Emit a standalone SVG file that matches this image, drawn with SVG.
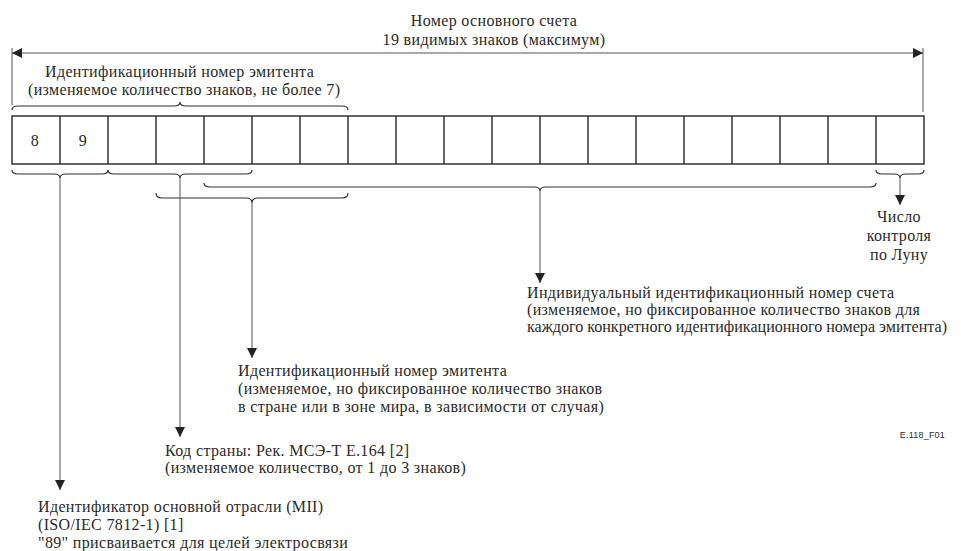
<svg xmlns="http://www.w3.org/2000/svg" width="961" height="551" viewBox="0 0 961 551">
<defs>
<style>
text{font-family:"Liberation Serif","Times New Roman",serif;font-size:16px;letter-spacing:0.35px;fill:#2a2a2a}
.mid{text-anchor:middle}
.cell{fill:#fff;stroke:#333;stroke-width:1.5}
.brace{fill:none;stroke:#333;stroke-width:1.2}
.conn{fill:none;stroke:#555;stroke-width:1}
.sans{font-family:"Liberation Sans",Arial,sans-serif;font-size:9px;letter-spacing:0.2px}
</style>
<marker id="ah" viewBox="0 0 10 10" refX="10" refY="5" markerWidth="10" markerHeight="10" markerUnits="userSpaceOnUse" orient="auto">
<path d="M0,0 L10,5 L0,10 Z" fill="#222"/>
</marker>
</defs>
<rect width="961" height="551" fill="#fff"/>

<g id="title">
<text class="mid" x="494" y="26">Номер основного счета</text>
<text class="mid" x="494" y="45">19 видимых знаков (максимум)</text>
</g>

<g id="issuer-top">
<text x="45" y="77">Идентификационный номер эмитента</text>
<text x="28" y="95">(изменяемое количество знаков, не более 7)</text>
<path class="brace" d="M12,110 Q12,106 18,106 L174,106 Q180,106 180,102 Q180,106 186,106 L342,106 Q348,106 348,110"/>
</g>

<g id="cells">
<rect class="cell" x="12" y="116" width="912" height="48"/>
<path class="cell" d="M60,116V164M108,116V164M156,116V164M204,116V164M252,116V164M300,116V164M348,116V164M396,116V164M444,116V164M492,116V164M540,116V164M588,116V164M636,116V164M684,116V164M732,116V164M780,116V164M828,116V164M876,116V164"/>
<text class="mid" x="35" y="146">8</text>
<text class="mid" x="83" y="146">9</text>
</g>

<g id="braces">
<path class="brace" d="M12,170 Q12,174 18,174 L54,174 Q60,174 60,178 Q60,174 66,174 L102,174 Q108,174 108,170"/>
<path class="brace" stroke-width="2" d="M108,170 Q108,174 114,174 L174,174 Q180,174 180,178 Q180,174 186,174 L246,174 Q252,174 252,170"/>
<path class="brace" d="M156,193 Q156,198 162,198 L246,198 Q252,198 252,203 Q252,198 258,198 L342,198 Q348,198 348,193"/>
<path class="brace" d="M204,183 Q204,187 210,187 L534,187 Q540,187 540,191 Q540,187 546,187 L870,187 Q876,187 876,183"/>
<path class="brace" d="M876,170 Q876,174 882,174 L894,174 Q900,174 900,178 Q900,174 906,174 L918,174 Q924,174 924,170"/>
</g>

<g id="connectors">
<line class="conn" x1="12" y1="48" x2="12" y2="105"/>
<line class="conn" x1="923" y1="48" x2="923" y2="112"/>
<line class="conn" x1="467" y1="53" x2="12" y2="53" marker-end="url(#ah)"/>
<line class="conn" x1="467" y1="53" x2="923" y2="53" marker-end="url(#ah)"/>
<line class="conn" x1="60" y1="178" x2="60" y2="490" marker-end="url(#ah)"/>
<line class="conn" x1="180" y1="178" x2="180" y2="437" marker-end="url(#ah)"/>
<line class="conn" x1="252" y1="203" x2="252" y2="358" marker-end="url(#ah)"/>
<line class="conn" x1="540" y1="191" x2="540" y2="283" marker-end="url(#ah)"/>
<line class="conn" x1="900" y1="178" x2="900" y2="205" marker-end="url(#ah)"/>
</g>

<g id="luhn">
<text class="mid" x="899" y="222">Число</text>
<text class="mid" x="899" y="241">контроля</text>
<text class="mid" x="899" y="260">по Луну</text>
</g>

<g id="account">
<text x="527" y="298">Индивидуальный идентификационный номер счета</text>
<text x="527" y="315">(изменяемое, но фиксированное количество знаков для</text>
<text x="527" y="332" style="letter-spacing:0" textLength="420" lengthAdjust="spacingAndGlyphs">каждого конкретного идентификационного номера эмитента)</text>
</g>

<g id="issuer">
<text x="238" y="376">Идентификационный номер эмитента</text>
<text x="238" y="394">(изменяемое, но фиксированное количество знаков</text>
<text x="238" y="412">в стране или в зоне мира, в зависимости от случая)</text>
</g>

<g id="country">
<text x="165" y="456">Код страны: Рек. МСЭ-Т E.164 [2]</text>
<text x="165" y="473">(изменяемое количество, от 1 до 3 знаков)</text>
</g>

<g id="mii">
<text x="38" y="512">Идентификатор основной отрасли (МII)</text>
<text x="38" y="530">(ISO/IEC 7812-1) [1]</text>
<text x="38" y="548">"89" присваивается для целей электросвязи</text>
</g>

<text class="sans" x="945" y="438" text-anchor="end">E.118_F01</text>
</svg>
